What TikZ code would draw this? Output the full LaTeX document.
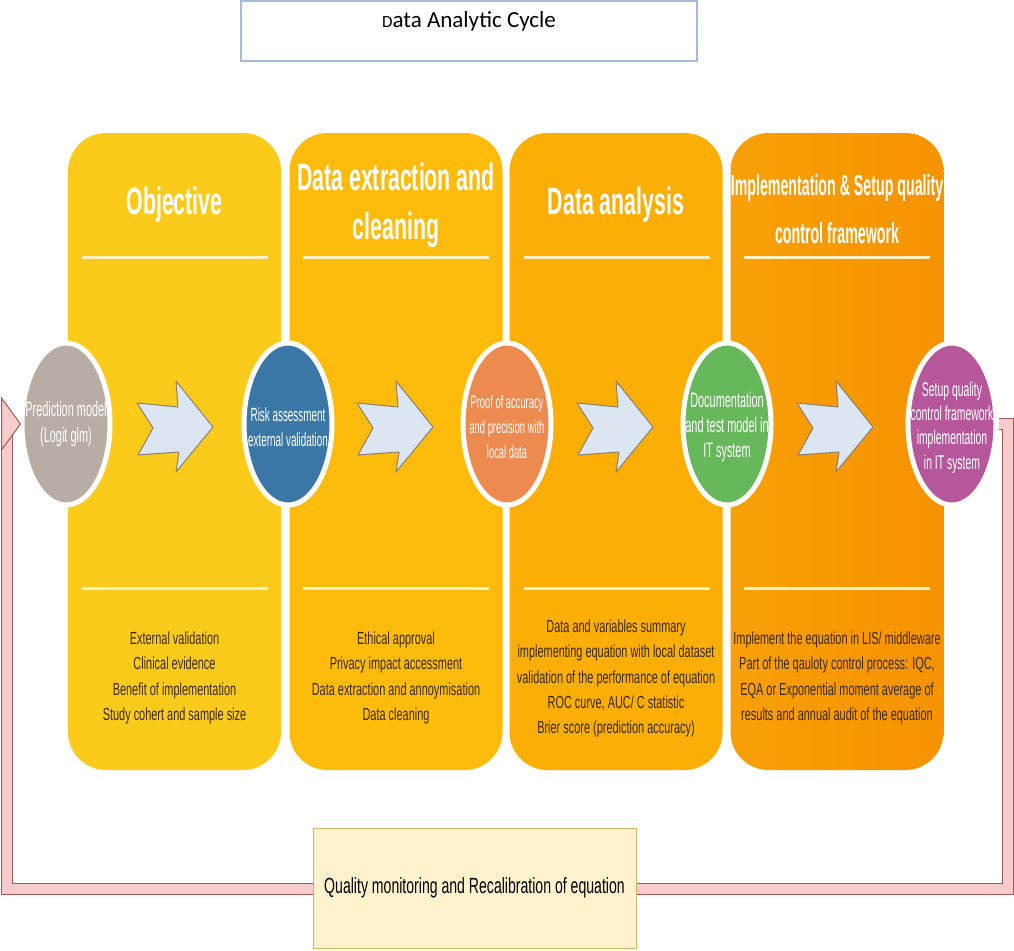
\documentclass[tikz,border=0pt]{standalone}
\usepackage{fontspec}
\setmainfont{Liberation Sans}
\newfontfamily\ttlfont[FakeStretch=0.56]{Liberation Sans}
\newfontfamily\smallttl[FakeStretch=0.49]{Liberation Sans}
\newfontfamily\bodyfont[FakeStretch=0.625]{Liberation Sans}
\newfontfamily\circfont[FakeStretch=0.52]{Liberation Sans}
\newfontfamily\loopfont[FakeStretch=0.64]{Liberation Sans}
\newfontfamily\headfont{Carlito}
\usetikzlibrary{shapes.geometric,calc}

\definecolor{panelA}{HTML}{FBCB1C}
\definecolor{panelB}{HTML}{FDBC0C}
\definecolor{panelC}{HTML}{FAAE06}
\definecolor{panelD}{HTML}{F9A008}
\definecolor{panelDr}{HTML}{F59300}
\definecolor{cgray}{HTML}{B8ADA4}
\definecolor{cblue}{HTML}{3A77A6}
\definecolor{corange}{HTML}{EC8A50}
\definecolor{cgreen}{HTML}{67B85B}
\definecolor{cpurple}{HTML}{B6579B}
\definecolor{arrfill}{HTML}{DCE6F3}
\definecolor{arredge}{HTML}{8C7F6D}
\definecolor{bodytext}{HTML}{3A2A12}
\definecolor{sepline}{HTML}{FFF1C2}
\definecolor{loopfill}{HTML}{F8CCCC}
\definecolor{loopedge}{HTML}{A5585A}
\definecolor{qfill}{HTML}{FFF2CC}
\definecolor{qedge}{HTML}{D2B660}
\definecolor{tedge}{HTML}{A3BCDD}

\begin{document}
\begin{tikzpicture}[x=1pt,y=-1pt,
  panel/.style={rounded corners=38pt, minimum width=213pt, minimum height=637pt, inner sep=0pt},
  ptitle/.style={text=white, align=center, inner sep=0pt},
  ptext/.style={text=bodytext, align=center, inner sep=0pt,
    font=\bodyfont\fontsize{17.5}{25.3}\selectfont},
  sep/.style={draw=sepline, line width=3pt},
  circ/.style={ellipse, minimum width=88pt, minimum height=162pt, draw=white,
    line width=5pt, inner sep=0pt},
  ctext/.style={text=white, align=center, inner sep=0pt},
  arrowstyle/.style={fill=arrfill, draw=arredge, line width=1pt, line join=round},
  chev/.pic={\path[arrowstyle] (0,-21) -- (41,-17) -- (39,-43) -- (76,3) -- (39,48)
    -- (42,28) -- (1,31) -- (16,4) -- cycle;},
  loopband/.style={draw=loopedge, line width=1pt, double=loopfill, double distance=10pt},
  loophead/.style={fill=loopfill, draw=loopedge, line width=1pt, line join=miter}]

\useasboundingbox (0,0) rectangle (1014,950);
\fill[white] (0,0) rectangle (1014,950);

% heading box
\node[draw=tedge, line width=2pt, fill=white, minimum width=456pt, minimum height=60pt,
  inner sep=0pt] (tbox) at (469,31) {};
\node[inner sep=0pt, font=\headfont\fontsize{23}{27}\selectfont] (ttext) at (469,21)
  {{\fontsize{17}{20}\selectfont D}ata Analytic Cycle};

% the four stage panels
\node[panel, fill=panelA] (p1) at (174.5,451.5) {};
\node[panel, fill=panelB] (p2) at (396,451.5) {};
\node[panel, fill=panelC] (p3) at (616,451.5) {};
\node[panel, left color=panelD, right color=panelDr] (p4) at (837,451.5) {};

% separator rules under the headings and above the notes
\foreach \xl in {68,289,510,730}{
  \draw[sep] (\xl+14,257) -- (\xl+200,257);
  \draw[sep] (\xl+14,588) -- (\xl+200,588);
}

% panel headings
\node[ptitle, font=\ttlfont\bfseries\fontsize{38}{49}\selectfont] (h1) at (174.5,205) {Objective};
\node[ptitle, font=\ttlfont\bfseries\fontsize{38}{49}\selectfont] (h2) at (396,205) {Data extraction and\\cleaning};
\node[ptitle, font=\ttlfont\bfseries\fontsize{38}{49}\selectfont] (h3) at (616,205) {Data analysis};
\node[ptitle, font=\smallttl\bfseries\fontsize{29}{48}\selectfont] (h4) at (837,209) {Implementation \& Setup quality\\control framework};

% panel notes
\node[ptext] (n1) at (174.5,678) {External validation\\Clinical evidence\\Benefit of implementation\\Study cohert and sample size};
\node[ptext] (n2) at (396,678) {Ethical approval\\Privacy impact accessment\\Data extraction and annoymisation\\Data cleaning};
\node[ptext] (n3) at (616,678.5) {Data and variables summary\\implementing equation with local dataset\\validation of the performance of equation\\ROC curve, AUC/ C statistic\\Brier score (prediction accuracy)};
\node[ptext] (n4) at (837,678) {Implement the equation in LIS/ middleware\\Part of the qauloty control process: IQC,\\EQA or Exponential moment average of\\results and annual audit of the equation};

% block arrows between the milestones
\foreach \i in {0,1,2,3}{
  \pic at (137+220*\i,424) {chev};
}

% milestone circles
\node[circ, fill=cgray]   (c1) at (66,424) {};
\node[circ, fill=cblue]   (c2) at (288,424) {};
\node[circ, fill=corange] (c3) at (507,424) {};
\node[circ, fill=cgreen]  (c4) at (727,424) {};
\node[circ, fill=cpurple] (c5) at (952,424) {};

\node[ctext, font=\circfont\fontsize{21}{26}\selectfont] (t1) at (c1) {Prediction model\\(Logit glm)};
\node[ctext, font=\circfont\fontsize{19}{25}\selectfont] (t2) at (288,427) {Risk assessment\\external validation};
\node[ctext, font=\circfont\fontsize{18}{25}\selectfont] (t3) at (507,427) {Proof of accuracy\\and precision with\\local data};
\node[ctext, font=\circfont\fontsize{21}{25}\selectfont] (t4) at (727,427) {Documentation\\and test model in\\IT system};
\node[ctext, font=\circfont\fontsize{20}{24.3}\selectfont] (t5) at (952,427.5) {Setup quality\\control framework\\implementation\\in IT system};

% feedback loop from the last milestone back to the first
\coordinate (loopR) at (1008,889);
\coordinate (loopL) at (7,424);
\draw[loopband] (c5.east) -| (loopR) -| (loopL);
\path[loophead] ($(c1.west)+(1,0)$) -- ++(-19,-26) -- ++(0,52) -- cycle;

% recalibration box on the loop
\node[fill=qfill, draw=qedge, line width=1pt, minimum width=323pt, minimum height=120pt,
  inner sep=0pt, font=\loopfont\fontsize{22}{25}\selectfont] (qbox) at (474.5,888)
  {Quality monitoring and Recalibration of equation};
\end{tikzpicture}
\end{document}
